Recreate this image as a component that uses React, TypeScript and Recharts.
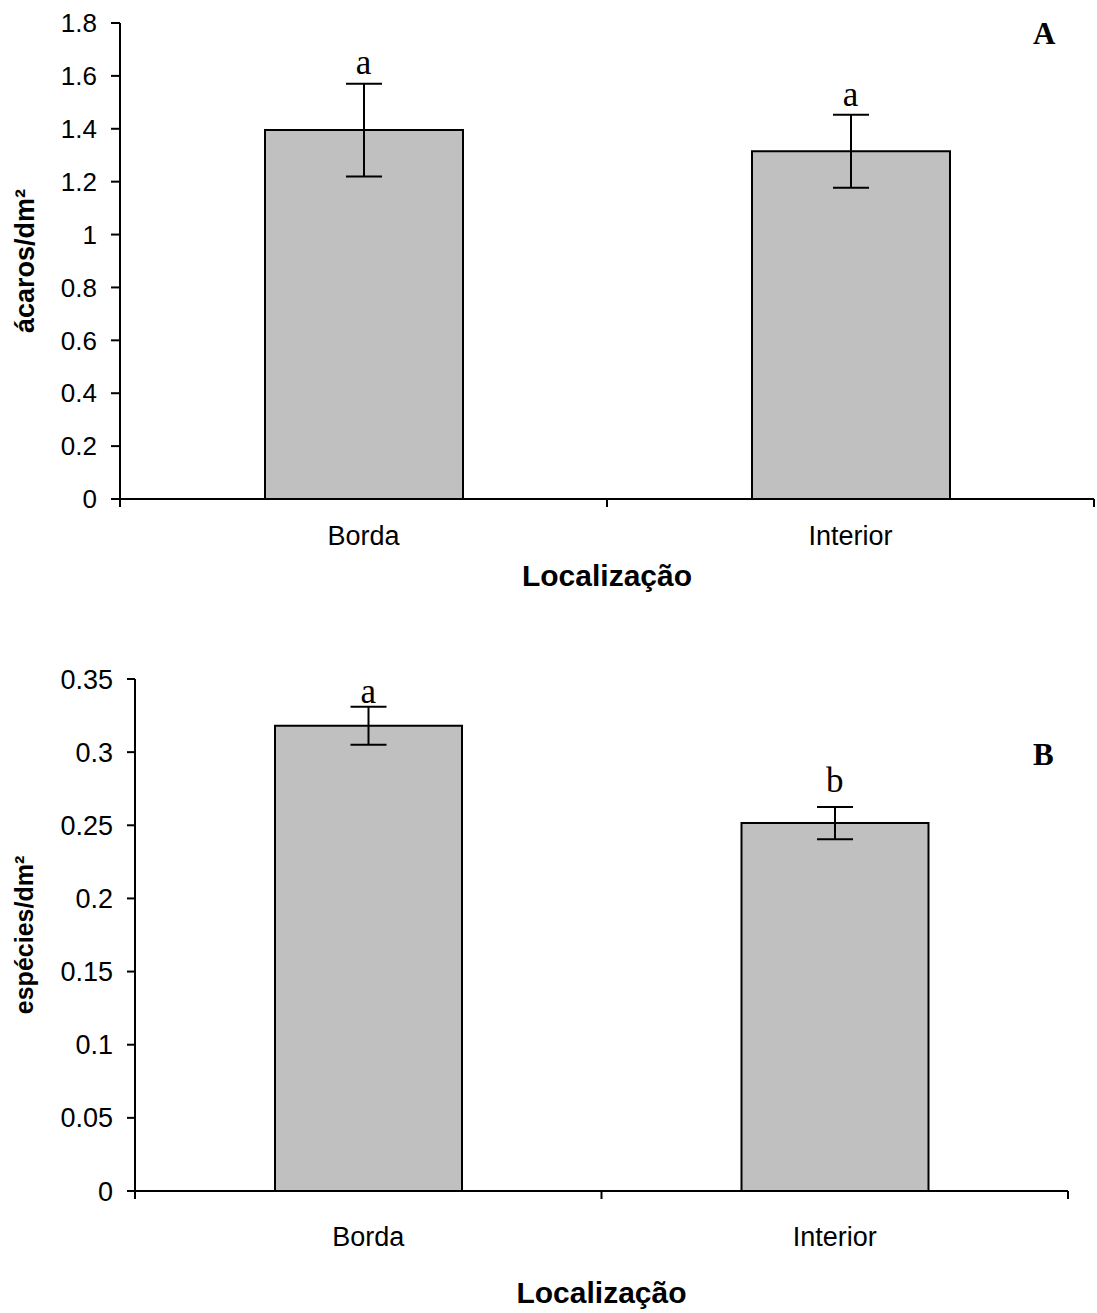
import { Bar, ComposedChart, ErrorBar, Scatter, XAxis, YAxis } from "recharts"

const categories = ["Borda", "Interior"]

const acarosMean = [1.395, 1.315]
const acarosErr = [0.175, 0.138]
const acarosLetters = ["a", "a"]
const acarosTicks = [0, 0.2, 0.4, 0.6, 0.8, 1, 1.2, 1.4, 1.6, 1.8]

const especiesMean = [0.318, 0.2515]
const especiesErr = [0.013, 0.011]
const especiesLetters = ["a", "b"]
const especiesTicks = [0, 0.05, 0.1, 0.15, 0.2, 0.25, 0.3, 0.35]

// category slots on a 0..2 axis: edges get tick marks, centres get the names
const xTicks = [0, 0.5, 1, 1.5, 2]

const SANS = "'Liberation Sans', Arial, sans-serif"
const SERIF = "'Liberation Serif', 'Times New Roman', serif"

function buildRows(mean: number[], err: number[], letters: string[]) {
  return categories.map((name, i) => ({
    name,
    pos: i + 0.5,
    mean: mean[i],
    err: err[i],
    top: mean[i] + err[i],
    letter: letters[i],
  }))
}

function XTick(props: any) {
  const { x, y, payload, labelGap } = props
  const v = payload.value as number
  if (Number.isInteger(v)) {
    return <line x1={x} x2={x} y1={y} y2={y + 8} stroke="#000" strokeWidth={2} />
  }
  return (
    <text x={x} y={y + labelGap} dy="0.71em" textAnchor="middle" fill="#000" fontSize={27} fontFamily={SANS}>
      {categories[Math.floor(v)]}
    </text>
  )
}

type PanelProps = {
  top: number
  height: number
  margin: { top: number; right: number; left: number; bottom: number }
  yWidth: number
  yTicks: number[]
  yLabel: string
  yLabelFont: number
  rows: ReturnType<typeof buildRows>
  barSize: number
  xAxisHeight: number
  xTickMargin: number
  xLabelOffset: number
  yTickSize: number
  yTickFont: number
  letterGap: number[]
  panel: string
  panelTop: number
}

function Panel(p: PanelProps) {
  const yMax = p.yTicks[p.yTicks.length - 1]
  return (
    <div style={{ position: "absolute", left: 0, top: p.top, width: 1097, height: p.height }}>
      <ComposedChart width={1097} height={p.height} data={p.rows} margin={p.margin}>
        <XAxis
          type="number"
          dataKey="pos"
          domain={[0, 2]}
          ticks={xTicks}
          interval={0}
          allowDataOverflow
          height={p.xAxisHeight}
          axisLine={{ stroke: "#000", strokeWidth: 2 }}
          tickLine={false}
          tickSize={0}
          tickMargin={0}
          tick={<XTick labelGap={p.xTickMargin} />}
          label={{
            value: "Localização",
            position: "insideBottom",
            offset: p.xLabelOffset,
            style: { fill: "#000", fontSize: 30, fontWeight: "bold", fontFamily: SANS },
          }}
        />
        <YAxis
          domain={[0, yMax]}
          ticks={p.yTicks}
          interval={0}
          width={p.yWidth}
          axisLine={{ stroke: "#000", strokeWidth: 2 }}
          tickLine={{ stroke: "#000", strokeWidth: 2 }}
          tickSize={p.yTickSize}
          tickMargin={14}
          tick={{ fill: "#000", fontSize: p.yTickFont, fontFamily: SANS }}
          tickFormatter={(v) => String(v)}
          label={{
            value: p.yLabel,
            angle: -90,
            position: "insideLeft",
            offset: 24,
            style: { textAnchor: "middle", fill: "#000", fontSize: p.yLabelFont, fontWeight: "bold", fontFamily: SANS },
          }}
        />
        <Bar
          dataKey="mean"
          barSize={p.barSize}
          fill="#c0c0c0"
          stroke="#000"
          strokeWidth={2}
          isAnimationActive={false}
        >
          <ErrorBar dataKey="err" width={18} stroke="#000" strokeWidth={2} direction="y" />
        </Bar>
        <Scatter
          dataKey="top"
          isAnimationActive={false}
          shape={(s: any) => (
            <text
              x={s.cx}
              y={s.cy - p.letterGap[categories.indexOf(s.payload.name)]}
              textAnchor="middle"
              fill="#000"
              fontSize={35}
              fontFamily={SERIF}
            >
              {s.payload.letter}
            </text>
          )}
        />
      </ComposedChart>
      <div
        style={{
          position: "absolute",
          left: 1033,
          top: p.panelTop,
          fontFamily: SERIF,
          fontWeight: "bold",
          fontSize: 31,
          lineHeight: 1,
          color: "#000",
        }}
      >
        {p.panel}
      </div>
    </div>
  )
}

export default function App() {
  return (
    <div
      style={{
        position: "absolute",
        left: 0,
        top: 0,
        width: 1097,
        height: 1313,
        background: "#fff",
        fontFamily: SANS,
      }}
    >
      <Panel
        top={0}
        height={640}
        margin={{ top: 23, right: 3, left: 0, bottom: 0 }}
        yWidth={120}
        yTicks={acarosTicks}
        yLabel="ácaros/dm²"
        yLabelFont={27}
        rows={buildRows(acarosMean, acarosErr, acarosLetters)}
        barSize={198}
        xAxisHeight={141}
        xTickMargin={27}
        xLabelOffset={54}
        yTickSize={9}
        yTickFont={26}
        letterGap={[10, 9]}
        panel="A"
        panelTop={18}
      />
      <Panel
        top={640}
        height={673}
        margin={{ top: 39, right: 29, left: 0, bottom: 0 }}
        yWidth={135}
        yTicks={especiesTicks}
        yLabel="espécies/dm²"
        yLabelFont={25}
        rows={buildRows(especiesMean, especiesErr, especiesLetters)}
        barSize={187}
        xAxisHeight={122}
        xTickMargin={36}
        xLabelOffset={10}
        yTickSize={8}
        yTickFont={27}
        letterGap={[4, 15]}
        panel="B"
        panelTop={99}
      />
    </div>
  )
}
